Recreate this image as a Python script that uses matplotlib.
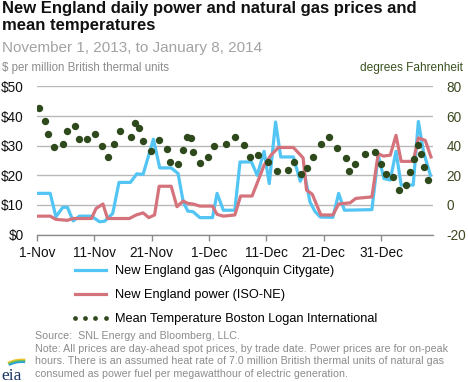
import matplotlib
matplotlib.use("Agg")
import matplotlib.pyplot as plt
from matplotlib.lines import Line2D
from matplotlib.patches import Arc

plt.rcParams['font.family'] = ['Liberation Sans', 'DejaVu Sans']

# ---- data (x = days since 1-Nov-2013) ----
gas_days = [0.2, 2.3, 3.3, 4.5, 5.3, 6.3, 7.4, 9.5, 10.9, 11.8, 13.2, 14.3, 16.3, 17.4,
            18.5, 20.3, 21.4, 23.4, 24.6, 25.5, 26.3, 27.2, 28.4, 30.6, 31.4, 32.5,
            34.5, 35.4, 37.4, 38.4, 39.6, 40.5, 41.6, 42.5, 44.7, 45.9, 46.6, 47.6,
            48.5, 49.4, 51.6, 52.6, 53.6, 58.4, 59.5, 60.5, 61.6, 62.6, 63.5, 65.6,
            66.5, 67.4, 68.6]
gas_price = [13.9, 13.9, 6.0, 9.2, 9.2, 4.6, 6.2, 6.2, 4.3, 4.5, 7.1, 17.6, 17.6, 20.5,
             20.3, 32.2, 22.5, 22.5, 20.6, 11.0, 7.9, 7.7, 5.7, 5.7, 13.9, 8.2,
             8.2, 24.5, 24.5, 20.0, 28.1, 17.2, 38.0, 26.2, 26.2, 18.0, 20.9, 11.0,
             7.7, 5.9, 5.8, 13.9, 8.2, 8.4, 26.8, 18.9, 18.4, 28.1, 16.7, 16.7,
             38.2, 27.9, 20.0]

power_days = [0.2, 2.3, 3.3, 5.3, 6.3, 9.5, 10.3, 11.5, 12.3, 16.1, 17.3, 18.5, 19.5,
              20.5, 21.3, 23.4, 24.4, 25.5, 26.3, 27.2, 28.4, 30.6, 31.4, 32.5, 34.5,
              35.5, 37.5, 38.6, 39.6, 40.8, 42.1, 44.7, 46.4, 47.0, 48.0, 49.5, 51.6,
              52.6, 54.6, 55.6, 58.4, 59.5, 60.4, 61.6, 62.6, 63.5, 65.6, 66.5, 67.7,
              68.7]
power_price = [6.2, 6.2, 5.1, 4.8, 5.4, 5.4, 8.8, 10.3, 5.4, 5.4, 6.6, 7.3, 5.7,
               6.6, 16.3, 16.3, 9.4, 11.3, 10.5, 10.3, 9.6, 9.6, 6.8, 6.2, 6.6,
               13.0, 13.0, 18.4, 23.4, 26.8, 29.4, 29.4, 25.9, 15.0, 13.6, 6.6, 6.6,
               10.3, 10.7, 12.2, 12.7, 27.3, 26.5, 26.8, 33.5, 24.7, 24.7, 32.6, 31.8,
               26.2]

temp_days = [0.4, 1.4, 2.0, 3.0, 4.6, 5.2, 6.6, 7.4, 8.8, 10.1, 11.4, 12.4, 13.4, 14.4,
             16.4, 17.1, 17.8, 18.4, 19.8, 21.3, 22.7, 23.2, 24.6, 25.4, 26.2, 26.8,
             27.2, 28.5, 29.9, 30.9, 32.9, 34.5, 36.1, 37.1, 38.5, 40.2, 41.8, 43.8,
             44.8, 46.1, 47.1, 48.2, 49.5, 50.9, 52.3, 53.8, 54.4, 55.5, 57.2, 58.9,
             60.0, 60.9, 62.0, 63.2, 64.4, 65.0, 65.7, 66.4, 66.9, 67.4, 68.2]
temp_f = [65.7, 56.9, 47.7, 39.1, 40.9, 50.2, 53.3, 44.3, 44.8, 47.9, 40.1, 32.4, 40.9, 49.7,
          46.1, 55.3, 52.2, 43.2, 36.4, 43.8, 38.0, 29.0, 27.9, 36.9, 45.9, 45.2,
          35.8, 28.4, 32.4, 39.6, 40.9, 45.7, 40.7, 32.4, 34.0, 29.0, 22.8, 23.6,
          29.0, 20.9, 24.6, 32.4, 40.9, 46.1, 38.7, 31.7, 22.8, 27.9, 34.4, 35.6,
          27.3, 20.9, 18.7, 10.2, 13.3, 22.3, 31.3, 40.3, 34.4, 25.3, 16.7]

x_ticks = [0, 10, 20, 30, 40, 50, 60]
x_labels = ['1-Nov', '11-Nov', '21-Nov', '1-Dec', '11-Dec', '21-Dec', '31-Dec']
left_ticks = [0, 10, 20, 30, 40, 50]
left_labels = ['$0', '$10', '$20', '$30', '$40', '$50']
right_ticks = [-20, 0, 20, 40, 60, 80]
right_labels = ['-20', '0', '20', '40', '60', '80']

series_labels = ['New England gas (Algonquin Citygate)',
                 'New England power (ISO-NE)',
                 'Mean Temperature Boston Logan International']

BLUE = '#52c5f4'
RED = '#d5737c'
GREEN = '#2e4a1c'
GRID = '#b8b8b8'
GRAY_TXT = '#8c8c8c'

W, H = 468, 382
fig = plt.figure(figsize=(W / 100, H / 100), dpi=100)
fig.patch.set_facecolor('white')

ax = fig.add_axes([37 / W, 1 - 234.5 / H, (432.7 - 37) / W, (234.5 - 86.5) / H])
ax.set_xlim(0, 69)
ax.set_ylim(0, 50)
ax.set_yticks(left_ticks)
ax.set_yticklabels(left_labels)
ax.set_xticks(x_ticks)
ax.set_xticklabels(x_labels)
ax.yaxis.grid(True, color=GRID, lw=1)
ax.set_axisbelow(True)
for s in ['left', 'right', 'top']:
    ax.spines[s].set_visible(False)
ax.spines['bottom'].set_color('#8c8c8c')
ax.spines['bottom'].set_linewidth(1)
ax.tick_params(axis='y', length=0, pad=9.5, labelsize=9.8, labelcolor='#111111')
ax.tick_params(axis='x', length=4, width=1, color='#8c8c8c', pad=4.5,
               labelsize=9.8, labelcolor='#111111', direction='out')

l1, = ax.plot(gas_days, gas_price, color=BLUE, lw=2.3, zorder=3)
l2, = ax.plot(power_days, power_price, color=RED, lw=2.3, zorder=4)

ax2 = ax.twinx()
ax2.set_ylim(-20, 80)
ax2.set_yticks(right_ticks)
ax2.set_yticklabels(right_labels)
for s in ax2.spines.values():
    s.set_visible(False)
ax2.tick_params(axis='y', length=0, pad=10, labelsize=9.8, labelcolor='#3d4a22')
ax2.plot(temp_days, temp_f, ls='none', marker='o', ms=5.3, color=GREEN,
         markeredgewidth=0, zorder=5)

h3 = Line2D([], [], ls='none', marker='o', ms=3.4, color=GREEN, markeredgewidth=0)
fig.legend([l1, l2, h3], series_labels, loc='upper left',
           bbox_to_anchor=(71 / W, 1 - 265 / H), frameon=False, fontsize=9.2,
           handlelength=3.0, handletextpad=0.45, labelspacing=0.95,
           borderpad=0, borderaxespad=0, numpoints=4)

# titles
fig.text(2 / W, 1 - 1.5 / H, "New England daily power and natural gas prices and\nmean temperatures",
         ha='left', va='top', fontsize=12, weight='bold', color='#111111', linespacing=1.1)
fig.text(2 / W, 1 - 48 / H, "November 1, 2013, to January 8, 2014", ha='left', va='center',
         fontsize=11, color='#a3a3a3')
fig.text(2 / W, 1 - 68 / H, "$ per million British thermal units", ha='left', va='center',
         fontsize=8.3, color=GRAY_TXT)
fig.text(463 / W, 1 - 68 / H, "degrees Fahrenheit", ha='right', va='center',
         fontsize=8.6, color='#3b5220')

notes = ["Source:  SNL Energy and Bloomberg, LLC.",
         "Note: All prices are day-ahead spot prices, by trade date. Power prices are for on-peak",
         "hours. There is an assumed heat rate of 7.0 million British thermal units of natural gas",
         "consumed as power fuel per megawatthour of electric generation."]
for i, t in enumerate(notes):
    fig.text(35 / W, 1 - (336 + 12.7 * i) / H, t, ha='left', va='center',
             fontsize=7.7, color=GRAY_TXT)

# eia logo
lax = fig.add_axes([0, 0, 34 / W, 34 / H])
lax.set_xlim(0, 34)
lax.set_ylim(0, 34)
lax.axis('off')
lax.text(1.5, 2.5, "eia", fontsize=12.5, family=['Liberation Serif', 'DejaVu Serif'],
         color='#1b3564', ha='left', va='baseline')
for r, c in [(32.5, '#f2c22e'), (31.2, '#6cbf4a'), (29.9, '#2a9fd8')]:
    lax.add_patch(Arc((22, -10), 2 * r, 2 * r, theta1=84, theta2=116, color=c, lw=1.3))

fig.savefig('out.png', dpi=100, facecolor='white')
